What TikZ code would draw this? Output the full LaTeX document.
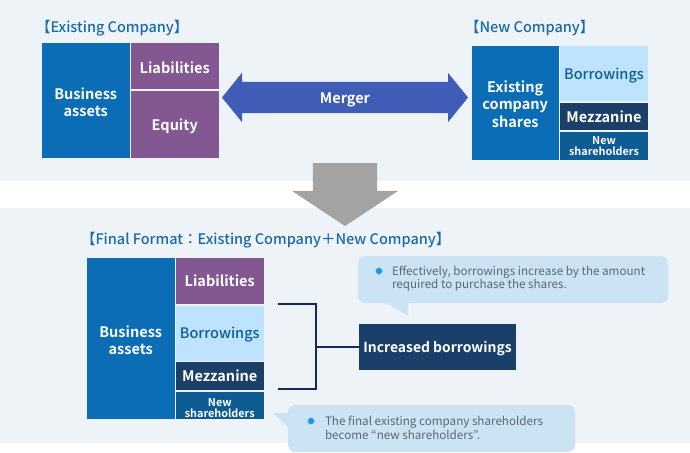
\documentclass[tikz,border=0pt]{standalone}
\usepackage{fontspec}
\setmainfont{Noto Sans CJK JP}[BoldFont={Noto Sans CJK JP Bold}]
\newfontfamily\mediumfont{Noto Sans CJK JP Medium}
\usetikzlibrary{positioning, shapes.arrows}
\definecolor{bandbg}{HTML}{EDF3F7}
\definecolor{assetblue}{HTML}{0A6DB5}
\definecolor{liabpurple}{HTML}{825792}
\definecolor{borrowlight}{HTML}{BDE3FF}
\definecolor{mezznavy}{HTML}{1A3F68}
\definecolor{newshblue}{HTML}{0E5C94}
\definecolor{titleblue}{HTML}{1A6AA8}
\definecolor{bracketnavy}{HTML}{14275F}
\definecolor{mergerblue}{HTML}{3F5DB6}
\definecolor{noteblue}{HTML}{CBE3F3}
\definecolor{notetext}{HTML}{5B6872}
\definecolor{dotblue}{HTML}{1A9BE8}
\tikzset{
    every node/.style={inner sep=0pt, outer sep=0pt},
    lift/.style={execute at begin node={\rule{0pt}{#1}}},
    box/.style={rectangle, align=center, font=\bfseries\fontsize{14.5}{17.5}\selectfont, text=white, minimum width=87.5pt},
    assetbox/.style={box, fill=assetblue, anchor=north west},
    liabbox/.style={box, fill=liabpurple},
    borrowbox/.style={box, fill=borrowlight, text=newshblue, font=\mediumfont\fontsize{14.5}{17.5}\selectfont, lift=15pt},
    mezzbox/.style={box, fill=mezznavy},
    newshbox/.style={box, fill=newshblue, font=\bfseries\fontsize{10.8}{11}\selectfont},
    heading/.style={anchor=west, text=titleblue, font=\mediumfont\fontsize{14.5}{16}\selectfont},
    note/.style={rectangle, rounded corners=7pt, fill=noteblue, anchor=north west},
    notelabel/.style={anchor=north west, align=left, text=notetext, font=\fontsize{11.65}{13.5}\selectfont},
    notedot/.style={circle, fill=dotblue, minimum size=6.5pt},
}
\begin{document}
\begin{tikzpicture}[x=1pt, y=-1pt, node distance=1.5pt]
    % page and bands
    \useasboundingbox (0,0) rectangle (690,452);
    \fill [white] (0,0) rectangle (690,452);
    \fill [bandbg] (0,0) rectangle (690,181);
    \fill [bandbg] (0,208) rectangle (690,443);
    % existing company
    \node (titleold) [heading] at (36,28) {【Existing Company】};
    \node (oldassets) [assetbox, minimum height=114.5pt, text height=33pt] at (42,43) {Business\\assets};
    \node (oldliab) [liabbox, anchor=north west, minimum height=46pt, lift=15pt] at (131,43) {Liabilities};
    \node (oldequity) [liabbox, below=2pt of oldliab, minimum height=66.5pt, lift=15pt] {Equity};
    % new company
    \node (titlenew) [heading] at (465,28) {【New Company】};
    \node (newshares) [assetbox, minimum width=86.5pt, minimum height=114pt, text height=49pt] at (472,46) {Existing\\company\\shares};
    \node (newborrow) [borrowbox, anchor=north west, minimum width=88pt, minimum height=55pt] at (560,46) {Borrowings};
    \node (newmezz) [mezzbox, below=2pt of newborrow, minimum width=88pt, minimum height=27pt] {Mezzanine};
    \node (newsh) [newshbox, below=2pt of newmezz, minimum width=88pt, minimum height=28pt] {New\\shareholders};
    % arrows
    \node (merger) [double arrow, double arrow head extend=9pt, double arrow tip angle=102, inner ysep=8pt, text height=13pt, text depth=2pt, minimum height=246pt, fill=mergerblue, text=white, font=\bfseries\fontsize{14.5}{16}\selectfont] at (345,97.5) {Merger};
    \node (down) [single arrow, shape border rotate=270, single arrow head extend=21pt, single arrow tip angle=113, inner xsep=32pt, inner ysep=0pt, minimum height=63pt, fill=black!36, anchor=tip] at (345,226) {};
    % final format
    \node (titlefinal) [heading] at (81,240) {【Final Format：Existing Company＋New Company】};
    \node (finassets) [assetbox, minimum height=161pt, text height=33pt] at (87,258) {Business\\assets};
    \node (finliab) [liabbox, anchor=north west, minimum height=46pt] at (176,258) {Liabilities};
    \node (finborrow) [borrowbox, below=of finliab, minimum height=55pt] {Borrowings};
    \node (finmezz) [mezzbox, below=of finborrow, minimum height=28pt] {Mezzanine};
    \node (finsh) [newshbox, below=of finmezz, minimum height=27.5pt, text height=24pt] {New\\shareholders};
    \node (increased) [box, fill=mezznavy, anchor=north west, minimum width=157pt, minimum height=46pt, lift=15pt, font=\bfseries\fontsize{13.9}{16}\selectfont] at (359,324) {Increased borrowings};
    % bracket
    \coordinate (brtop) at (278,304);
    \coordinate (brbot) at (278,389);
    \coordinate (brjoin) at (316,347);
    \draw [bracketnavy, line width=2pt] (brtop) -| (brjoin) |- (brbot);
    \draw [bracketnavy, line width=2pt] (brjoin) -- (increased.west);
    % notes
    \node (noteup) [note, minimum width=310pt, minimum height=47pt] at (358,256) {};
    \fill [noteblue] (385,302) -- (408,316) -- (408,302) -- cycle;
    \node (dotup) [notedot] at (379,271) {};
    \node (textup) [notelabel] at (392,266) {Effectively, borrowings increase by the amount\\required to purchase the shares.};
    \node (notedown) [note, minimum width=287pt, minimum height=47pt] at (288,405) {};
    \fill [noteblue] (273,413) -- (289,413) -- (289,428) -- cycle;
    \node (dotdown) [notedot] at (311,421) {};
    \node (textdown) [notelabel] at (325,416.5) {The final existing company shareholders\\become “new shareholders”.};
\end{tikzpicture}
\end{document}
